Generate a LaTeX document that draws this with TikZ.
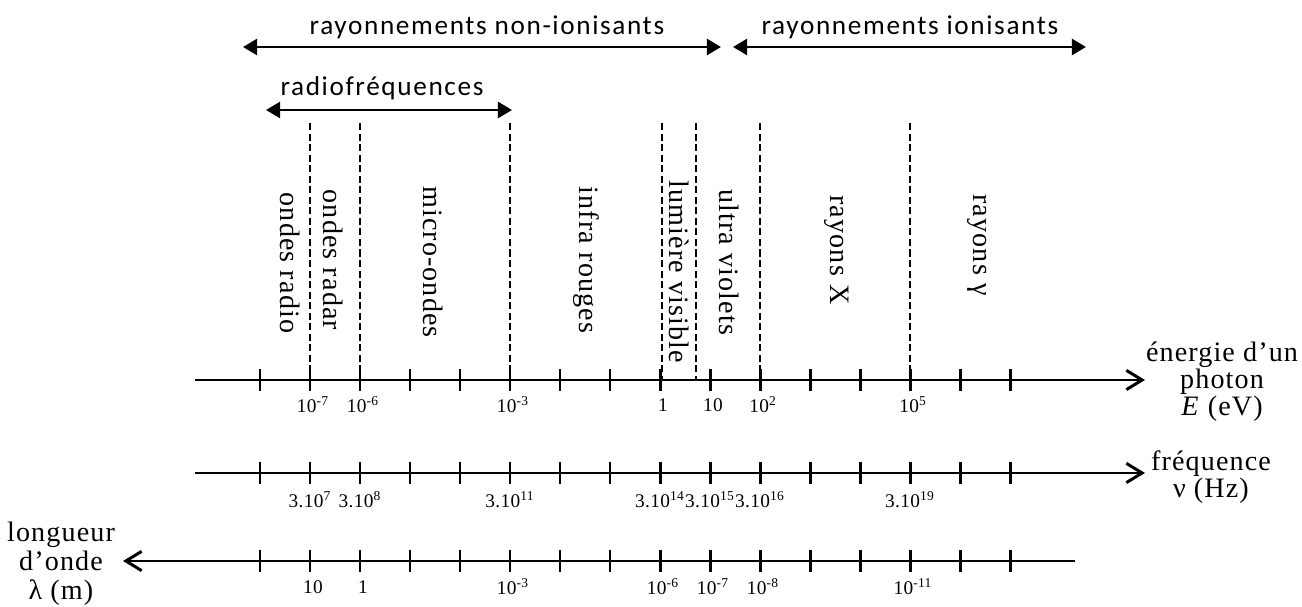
\documentclass[tikz,border=0pt]{standalone}
\usepackage{fontspec}
\setmainfont{Liberation Serif}[LetterSpace=4]
\newfontfamily\tickfont{Liberation Serif}[LetterSpace=2]
\newfontfamily\bandfont{Carlito}[LetterSpace=6]
\usetikzlibrary{arrows.meta}

\begin{document}
\begin{tikzpicture}[x=0.02cm,y=-0.02cm,
	axis/.style={line width=1.7pt,-{Straight Barb[length=9pt,width=11pt]}},
	tick/.style={line width=1.7pt},
	limit/.style={line width=1.6pt,dash pattern=on 4pt off 2pt},
	band/.style={line width=1.7pt,{Triangle[length=8pt,width=9pt]}-{Triangle[length=8pt,width=9pt]}},
	bandlabel/.style={font=\bandfont\fontsize{15.5}{18}\selectfont,inner sep=0pt},
	region/.style={font=\fontsize{16}{18}\selectfont,rotate=-90,inner sep=0pt},
	val/.style={font=\tickfont\fontsize{11}{13}\selectfont,inner sep=0pt},
	unit/.style={font=\fontsize{16}{15.3}\selectfont,align=center,inner sep=0pt}]
\useasboundingbox (0,0) rectangle (1302,607);
\def\ye{380}
\def\yf{473}
\def\yl{561}

%bands
\coordinate (nia) at (243,47);
\coordinate (nib) at (721,47);
\coordinate (ia) at (733,47);
\coordinate (ib) at (1086,47);
\coordinate (rfa) at (266,110);
\coordinate (rfb) at (512,110);
\draw[band] (nia) -- (nib);
\draw[band] (ia) -- (ib);
\draw[band] (rfa) -- (rfb);
\node[bandlabel] (nonion) at (487,27) {rayonnements non-ionisants};
\node[bandlabel] (ion) at (910,27) {rayonnements ionisants};
\node[bandlabel] (radiof) at (382,88) {radiofréquences};

%axes
\coordinate (e0) at (195,\ye);
\coordinate (e1) at (1145,\ye);
\coordinate (f0) at (195,\yf);
\coordinate (f1) at (1145,\yf);
\coordinate (l0) at (1075,\yl);
\coordinate (l1) at (123,\yl);
\draw[axis] (e0) -- (e1);
\draw[axis] (f0) -- (f1);
\draw[axis] (l0) -- (l1);

%ticks
\foreach \k in {0,...,15}
	{\pgfmathsetmacro{\tx}{260+50*\k}
	\foreach \y in {\ye,\yf,\yl}
		\draw[tick] (\tx,\y-11) -- (\tx,\y+11);}

%limits
\foreach \x in {310,360,510,662,696,760,910}
	{\coordinate (top\x) at (\x,123);
	\coordinate (bot\x) at (\x,\ye);
	\draw[limit] (top\x) -- (bot\x);}

%domains
\node[region] (radio) at (290,263) {ondes radio};
\node[region] (radar) at (333,260) {ondes radar};
\node[region] (micro) at (433,262) {micro-ondes};
\node[region] (ir) at (586,260) {infra rouges};
\node[region] (vis) at (679,272) {lumière visible};
\node[region] (uv) at (729,262) {ultra violets};
\node[region] (rx) at (837,250) {rayons X};
\node[region] (rg) at (977,245) {rayons γ};

%values
\foreach \x/\t in {310/10\textsuperscript{-7},360/10\textsuperscript{-6},510/10\textsuperscript{-3},660/1,710/10,760/10\textsuperscript{2},910/10\textsuperscript{5}}
	\node[val] (ev\x) at (\x+3,405) {\t};
\foreach \x/\t in {310/3.10\textsuperscript{7},360/3.10\textsuperscript{8},510/3.10\textsuperscript{11},660/3.10\textsuperscript{14},710/3.10\textsuperscript{15},760/3.10\textsuperscript{16},910/3.10\textsuperscript{19}}
	\node[val] (hz\x) at (\x,500) {\t};
\foreach \x/\t in {310/10,360/1,510/10\textsuperscript{-3},660/10\textsuperscript{-6},710/10\textsuperscript{-7},760/10\textsuperscript{-8},910/10\textsuperscript{-11}}
	\node[val] (m\x) at (\x+3,587) {\t};

%units
\node[unit] (energy) at (1222,382) {énergie d'un\\photon\\\textit{E} (eV)};
\node[unit] (freq) at (1211,477) {fréquence\\ν (Hz)};
\node[unit,font=\fontsize{16}{16.4}\selectfont] (wave) at (61,564) {longueur\\d'onde\\λ (m)};
\end{tikzpicture}
\end{document}
